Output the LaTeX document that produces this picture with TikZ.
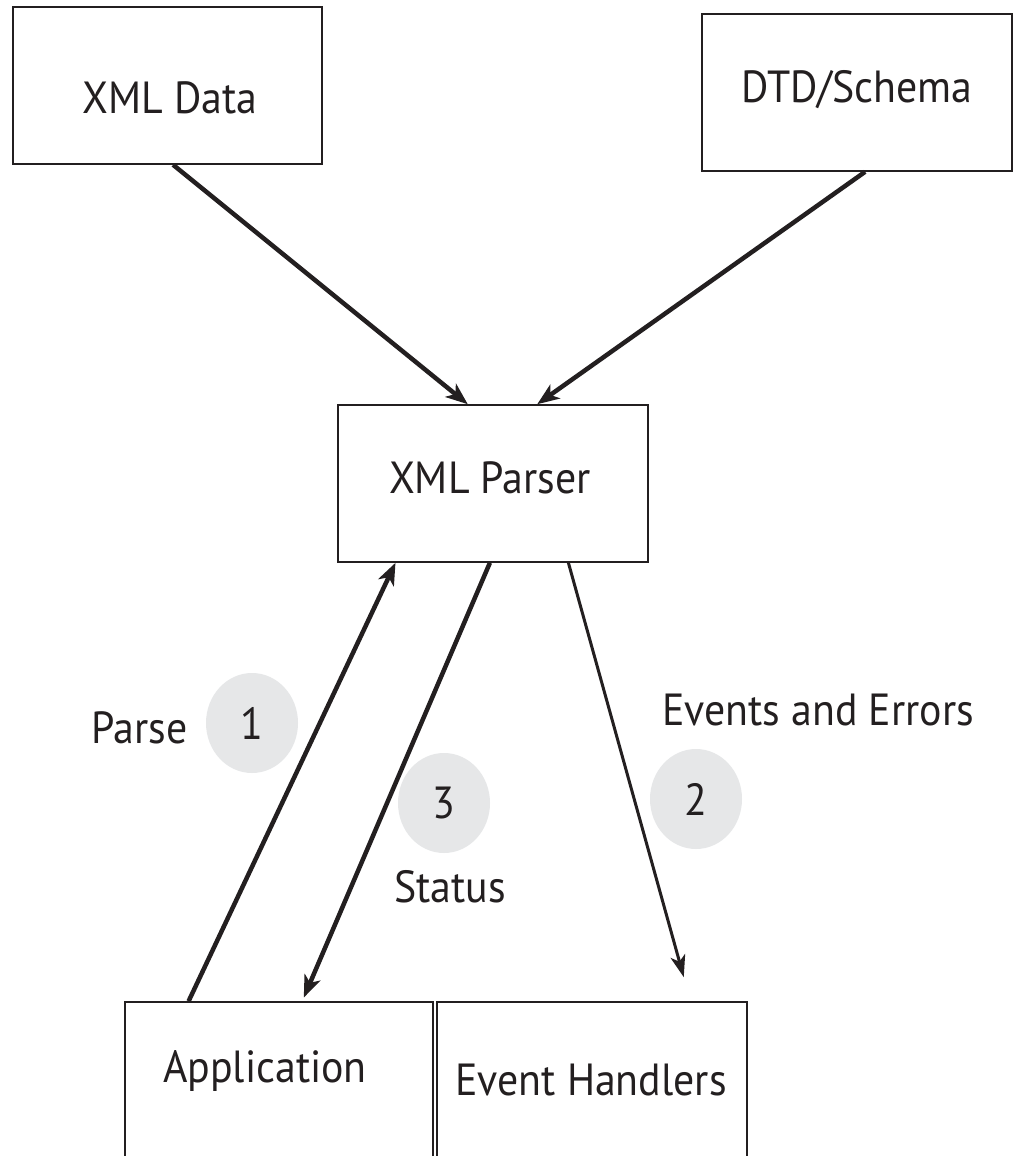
\documentclass[tikz,border=0pt]{standalone}
\usepackage{fontspec}
\setmainfont{PT Sans}[FakeStretch=0.93]
\usetikzlibrary{arrows.meta,calc,shapes.geometric}
\definecolor{ink}{HTML}{231F20}
\definecolor{discgray}{HTML}{E6E7E8}
\begin{document}
\begin{tikzpicture}[x=1pt,y=-1pt,
  box/.style={draw=ink,line width=1.6pt,rectangle,inner sep=0pt,minimum width=310pt,minimum height=157pt},
  txt/.style={font=\fontsize{45}{54}\selectfont,text=ink,anchor=base,inner sep=0pt},
  numdisc/.style={ellipse,fill=discgray,inner sep=0pt,minimum width=92pt,minimum height=100pt,font=\fontsize{45}{54}\selectfont,text=ink},
  flow/.style={draw=ink,line width=4.5pt,-{Stealth[length=22pt,width=17pt,inset=6pt]}},
  thinflow/.style={draw=ink,line width=3pt,-{Stealth[length=22pt,width=15pt,inset=6pt]}}
  ]
\clip (0,0) rectangle (1016,1156);
\fill[white] (0,0) rectangle (1016,1156);
% boxes
\node[box,minimum width=309pt] (data) at (167.5,85.5) {};
\node[box] (dtd) at (857,92.5) {};
\node[box] (parser) at (493,483.5) {};
\node[box,minimum width=308pt,minimum height=400pt] (app) at (279,1202) {};
\node[box,minimum height=400pt] (handlers) at (592,1202) {};
% box texts
\node[txt] (tdata) at (170,113) {XML Data};
\node[txt] (tdtd) at (857,102) {DTD/Schema};
\node[txt] (tparser) at (490,493) {XML Parser};
\node[txt] (tapp) at (265,1082) {Application};
\node[txt] (thandlers) at (591,1095) {Event Handlers};
% labels
\node[txt] (lparse) at (139.5,743) {Parse};
\node[txt] (lstatus) at (450,902) {Status};
\node[txt] (levents) at (818,725) {Events and Errors};
% numbered discs
\node[numdisc] (n1) at (252,723) {1};
\node[numdisc] (n3) at (444,803) {3};
\node[numdisc] (n2) at (696,799) {2};
% connectors
\draw[flow] ($(data.south west)!0.518!(data.south east)$) -- ($(parser.north west)!0.419!(parser.north east)$);
\draw[flow] ($(dtd.south west)!0.526!(dtd.south east)$) -- ($(parser.north west)!0.642!(parser.north east)$);
\draw[flow] ($(app.north west)!0.208!(app.north east)$) -- ($(parser.south west)!0.187!(parser.south east)$);
\draw[flow,shorten >=4pt] ($(parser.south west)!0.49!(parser.south east)$) -- ($(app.north west)!0.575!(app.north east)$);
\draw[thinflow,shorten >=25pt] ($(parser.south west)!0.742!(parser.south east)$) -- ($(handlers.north west)!0.816!(handlers.north east)$);
\end{tikzpicture}
\end{document}
